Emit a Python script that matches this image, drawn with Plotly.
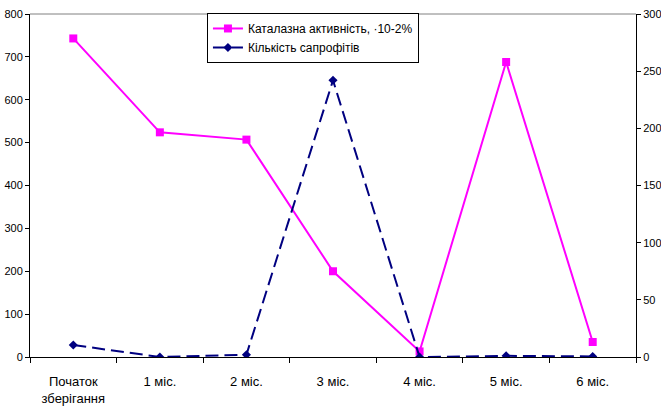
import plotly.graph_objects as go

categories = ["Початок<br>зберігання", "1 міс.", "2 міс.", "3 міс.", "4 міс.", "5 міс.", "6 міс."]
catalase = [743, 524, 507, 200, 13, 688, 35]
saprophytes = [10.5, 0, 2, 242, 0, 1, 0.5]
left_ticks = [0, 100, 200, 300, 400, 500, 600, 700, 800]
right_ticks = [0, 50, 100, 150, 200, 250, 300]

fig = go.Figure()
fig.add_trace(go.Scatter(
    x=categories, y=catalase, name="Каталазна активність, ·10-2%",
    mode="lines+markers", line=dict(color="#FF00FF", width=2),
    marker=dict(symbol="square", size=8, color="#FF00FF"), yaxis="y"))
fig.add_trace(go.Scatter(
    x=categories, y=saprophytes, name="Кількість сапрофітів",
    mode="lines+markers", line=dict(color="#000080", width=2, dash="13px,6px"),
    marker=dict(symbol="diamond", size=7, color="#000080"), yaxis="y2"))

fig.update_layout(
    width=661, height=410,
    margin=dict(l=30, r=25, t=14, b=53),
    plot_bgcolor="white", paper_bgcolor="white",
    font=dict(family="Liberation Sans, Arial, sans-serif", size=12, color="black"),
    showlegend=True,
    legend=dict(x=0.292, y=1.003, xanchor="left", yanchor="top",
                bordercolor="black", borderwidth=1, bgcolor="white",
                font=dict(size=12), tracegroupgap=0, itemwidth=30),
    xaxis=dict(type="category", range=[-0.5, 6.5], showgrid=False, automargin=False,
               showline=True, linecolor="black", linewidth=1,
               ticks="outside", ticklen=5, tickcolor="black", tickson="boundaries",
               ticklabelstandoff=12, tickfont=dict(size=13)),
    yaxis=dict(range=[0, 800], tickvals=left_ticks, showgrid=False, zeroline=False,
               automargin=False,
               showline=True, linecolor="black", linewidth=1,
               ticks="outside", ticklen=4, tickcolor="black", tickfont=dict(size=11)),
    yaxis2=dict(range=[0, 300], tickvals=right_ticks, overlaying="y", side="right",
                automargin=False,
                showgrid=False, zeroline=False, showline=True, linecolor="black",
                linewidth=1, ticks="outside", ticklen=4, tickcolor="black",
                tickfont=dict(size=11)),
    shapes=[dict(type="line", xref="paper", yref="paper", x0=0, x1=1, y0=1, y1=1,
                 line=dict(color="#808080", width=1))],
)

fig.write_html("out.html")
